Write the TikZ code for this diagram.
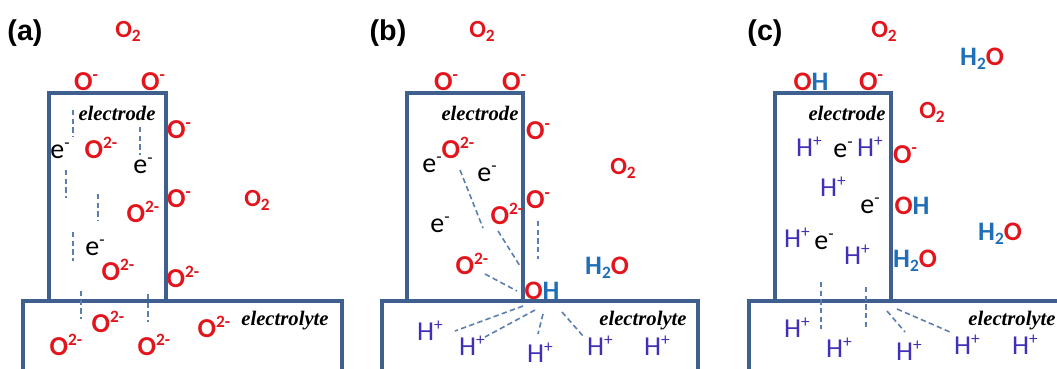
\documentclass[tikz,border=0pt]{standalone}
\usepackage{fontspec}
\setmainfont{Carlito}
\newfontfamily\labfont{Liberation Sans}
\newfontfamily\serffont{Liberation Serif}
\definecolor{redc}{HTML}{E3141B}
\definecolor{bluec}{HTML}{1F6FB8}
\definecolor{hpc}{HTML}{4030B8}
\definecolor{framec}{HTML}{3F5F8F}
\definecolor{dashc}{HTML}{5B7FAE}
\newcommand{\spx}[1]{\raisebox{7.8pt}{\fontsize{13}{13}\selectfont #1}}
\newcommand{\sbx}[1]{\raisebox{-3pt}{\fontsize{13}{13}\selectfont #1}}
\newcommand{\OHtxt}{{\color{redc}O}{\color{bluec}H}}
\newcommand{\HHOtxt}{{\color{bluec}H\sbx{2}}{\color{redc}O}}
\tikzset{
  frame/.style={draw=framec, line width=2.3pt},
  dl/.style={draw=dashc, line width=1.2pt, dash pattern=on 4pt off 2.5pt},
  ox/.style={text=redc, font=\fontsize{20.5}{22}\selectfont\bfseries, inner sep=0pt, text height=13.2pt, text depth=0pt},
  otwo/.style={text=redc, font=\fontsize{18.5}{20}\selectfont\bfseries, inner sep=0pt, text height=11.9pt, text depth=0pt},
  mix/.style={font=\fontsize{20}{22}\selectfont\bfseries, inner sep=0pt, text height=12.9pt, text depth=0pt},
  el/.style={text=black, font=\fontsize{21}{22}\selectfont, inner sep=0pt, text height=9.8pt, text depth=0pt},
  hp/.style={text=hpc, font=\fontsize{20.5}{22}\selectfont, inner sep=0pt, text height=13.2pt, text depth=0pt},
  lab/.style={font=\fontsize{21.5}{24}\selectfont\labfont\bfseries, inner sep=0pt},
  ital/.style={font=\fontsize{15.5}{18}\selectfont\serffont\bfseries\itshape, inner sep=0pt},
}
\begin{document}
\begin{tikzpicture}[x=0.75pt, y=-0.75pt]
\useasboundingbox (0,0) rectangle (1057,368);
\clip (0,0) rectangle (1057,368);
% ---------------- panel (a)
\draw[frame] (23,301) rectangle (342,390);
\draw[frame] (49,93) rectangle (166,301);
\node[lab] (la) at (25,33) {(a)};
\node[otwo] (a1) at (128,30) {O\sbx{2}};
\node[ox] (a2) at (86,82) {O\spx{-}};
\node[ox] (a3) at (153,82) {O\spx{-}};
\node[ital] (a4) at (117,113) {electrode};
\node[el] (a5) at (60,152) {e\spx{-}};
\node[ox] (a6) at (101,150) {O\spx{2-}};
\node[el] (a7) at (143,167) {e\spx{-}};
\node[ox] (a8) at (179,130) {O\spx{-}};
\node[ox] (a9) at (143,214) {O\spx{2-}};
\node[ox] (a10) at (179,199) {O\spx{-}};
\node[otwo] (a11) at (257,199) {O\sbx{2}};
\node[el] (a12) at (95,249) {e\spx{-}};
\node[ox] (a13) at (118,272) {O\spx{2-}};
\node[ox] (a14) at (183,279) {O\spx{2-}};
\node[ox] (a15) at (108,324) {O\spx{2-}};
\node[ox] (a16) at (66,347) {O\spx{2-}};
\node[ox] (a17) at (154,347) {O\spx{2-}};
\node[ox] (a18) at (214,329) {O\spx{2-}};
\node[ital] (a19) at (285,321) {electrolyte};
\draw[dl] (73,110) -- (73,137);
\draw[dl] (140,127) -- (140,155);
\draw[dl] (66,170) -- (66,198);
\draw[dl] (98,194) -- (98,221);
\draw[dl] (73,232) -- (73,261);
\draw[dl] (81,291) -- (81,319);
\draw[dl] (148,294) -- (148,322);
% ---------------- panel (b)
\draw[frame] (382,301) rectangle (698,390);
\draw[frame] (407,93) rectangle (523,301);
\node[lab] (lb) at (388,33) {(b)};
\node[otwo] (b1) at (482,30) {O\sbx{2}};
\node[ox] (b2) at (446,82) {O\spx{-}};
\node[ox] (b3) at (514,82) {O\spx{-}};
\node[ital] (b4) at (480,113) {electrode};
\node[ox] (b5) at (538,131) {O\spx{-}};
\node[ox] (b6) at (458,150) {O\spx{2-}};
\node[el] (b7) at (432,166) {e\spx{-}};
\node[el] (b8) at (487,175) {e\spx{-}};
\node[otwo] (b9) at (623,167) {O\sbx{2}};
\node[el] (b10) at (440,226) {e\spx{-}};
\node[ox] (b11) at (507,216) {O\spx{2-}};
\node[ox] (b12) at (538,200) {O\spx{-}};
\node[ox] (b13) at (472,266) {O\spx{2-}};
\node[mix] (b14) at (542,291) {\OHtxt};
\node[mix] (b15) at (607,266) {\HHOtxt};
\node[ital] (b16) at (643,321) {electrolyte};
\node[hp] (b17) at (430,332) {H\spx{+}};
\node[hp] (b18) at (472,347) {H\spx{+}};
\node[hp] (b19) at (540,354) {H\spx{+}};
\node[hp] (b20) at (600,347) {H\spx{+}};
\node[hp] (b21) at (657,347) {H\spx{+}};
\draw[dl] (460,170) -- (483,228);
\draw[dl] (538,221) -- (538,259);
\draw[dl] (498,231) -- (520,266);
\draw[dl] (485,274) -- (517,291);
\draw[dl] (523,306) -- (455,331);
\draw[dl] (535,310) -- (485,337);
\draw[dl] (543,314) -- (538,334);
\draw[dl] (562,312) -- (583,336);
% ---------------- panel (c)
\draw[frame] (749,301) rectangle (1080,390);
\draw[frame] (775,93) rectangle (891,301);
\node[lab] (lc) at (765,33) {(c)};
\node[otwo] (c1) at (884,30) {O\sbx{2}};
\node[mix] (c2) at (982,57) {\HHOtxt};
\node[mix] (c3) at (811,82) {\OHtxt};
\node[ox] (c4) at (871,82) {O\spx{-}};
\node[ital] (c5) at (847,113) {electrode};
\node[otwo] (c6) at (932,111) {O\sbx{2}};
\node[hp] (c7) at (809,148) {H\spx{+}};
\node[el] (c8) at (843,151) {e\spx{-}};
\node[hp] (c9) at (870,148) {H\spx{+}};
\node[ox] (c10) at (905,155) {O\spx{-}};
\node[hp] (c11) at (833,188) {H\spx{+}};
\node[el] (c12) at (870,207) {e\spx{-}};
\node[mix] (c13) at (912,206) {\OHtxt};
\node[hp] (c14) at (797,239) {H\spx{+}};
\node[el] (c15) at (824,243) {e\spx{-}};
\node[hp] (c16) at (857,256) {H\spx{+}};
\node[mix] (c17) at (915,259) {\HHOtxt};
\node[mix] (c18) at (1000,232) {\HHOtxt};
\node[ital] (c19) at (1012,321) {electrolyte};
\node[hp] (c20) at (797,329) {H\spx{+}};
\node[hp] (c21) at (839,349) {H\spx{+}};
\node[hp] (c22) at (909,352) {H\spx{+}};
\node[hp] (c23) at (967,346) {H\spx{+}};
\node[hp] (c24) at (1025,346) {H\spx{+}};
\draw[dl] (821,282) -- (821,329);
\draw[dl] (866,287) -- (866,329);
\draw[dl] (887,311) -- (905,332);
\draw[dl] (897,309) -- (950,332);
\end{tikzpicture}
\end{document}
